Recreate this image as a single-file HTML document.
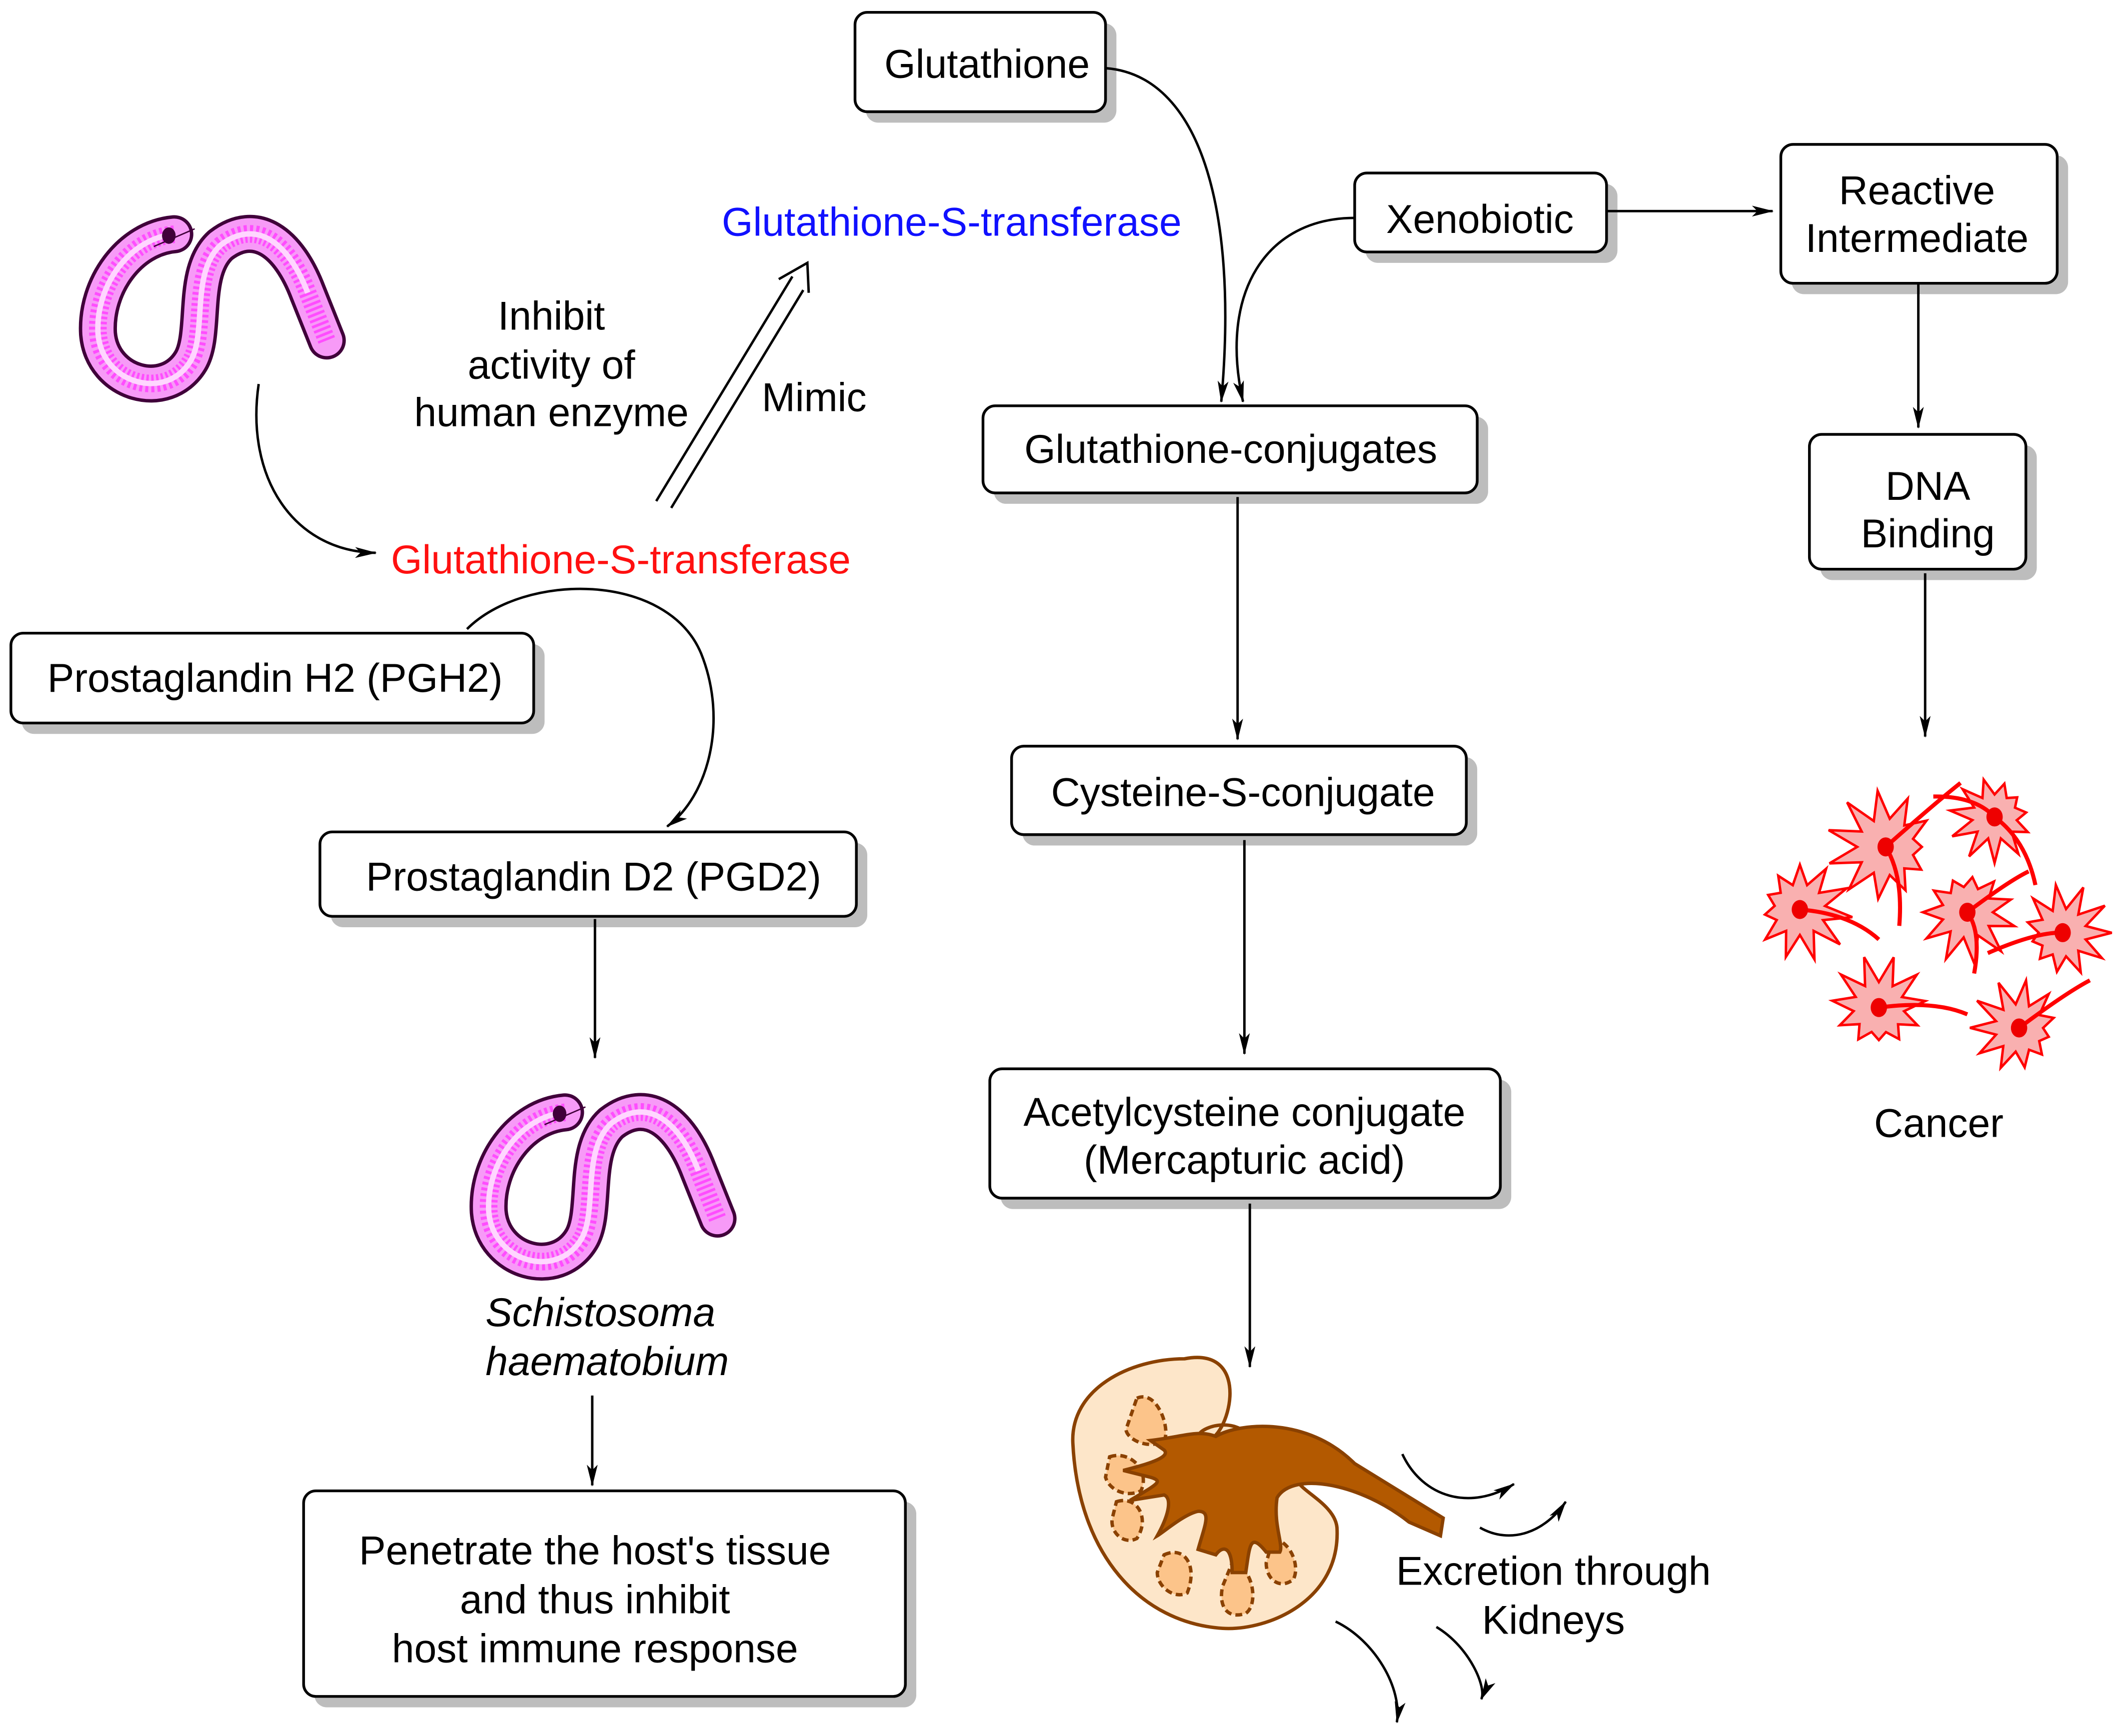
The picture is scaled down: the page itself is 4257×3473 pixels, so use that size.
<!DOCTYPE html>
<html><head><meta charset="utf-8"><style>
html,body{margin:0;padding:0;background:#fff}
svg{display:block}
text{font-family:"Liberation Sans",Arial,sans-serif;font-size:29.5px;fill:#000}
</style></head><body>
<svg id="s" width="4257" height="3473" viewBox="0 0 1563 1275" xmlns="http://www.w3.org/2000/svg">
<defs>
<marker id="a" viewBox="0 0 20 10" refX="19" refY="5" markerWidth="16" markerHeight="8" markerUnits="userSpaceOnUse" orient="auto">
<path d="M0,0 L20,5 L0,10 L5,5 Z" fill="#000"/></marker>
</defs>
<g id="boxes" stroke="#000" stroke-width="2">
<g fill="#bdbdbd" stroke="none">
<rect x="636" y="17" width="184" height="73" rx="9"/>
<rect x="1003" y="135" width="185" height="58" rx="9"/>
<rect x="1316" y="114" width="203" height="102" rx="9"/>
<rect x="730" y="306" width="363" height="64" rx="9"/>
<rect x="1337" y="327" width="159" height="99" rx="9"/>
<rect x="16" y="473" width="384" height="66" rx="9"/>
<rect x="751" y="556" width="334" height="65" rx="9"/>
<rect x="243" y="619" width="394" height="62" rx="9"/>
<rect x="735" y="793" width="375" height="95" rx="9"/>
<rect x="231" y="1103" width="442" height="151" rx="9"/>
</g>
<g fill="#fff">
<rect x="628" y="9" width="184" height="73" rx="9"/>
<rect x="995" y="127" width="185" height="58" rx="9"/>
<rect x="1308" y="106" width="203" height="102" rx="9"/>
<rect x="722" y="298" width="363" height="64" rx="9"/>
<rect x="1329" y="319" width="159" height="99" rx="9"/>
<rect x="8" y="465" width="384" height="66" rx="9"/>
<rect x="743" y="548" width="334" height="65" rx="9"/>
<rect x="235" y="611" width="394" height="62" rx="9"/>
<rect x="727" y="785" width="375" height="95" rx="9"/>
<rect x="223" y="1095" width="442" height="151" rx="9"/>
</g>
</g>
<g text-anchor="middle">
<text x="725" y="57">Glutathione</text>
<text x="1087" y="171">Xenobiotic</text>
<text x="1408" y="150">Reactive</text>
<text x="1408" y="185">Intermediate</text>
<text x="904" y="340">Glutathione-conjugates</text>
<text x="1416" y="367">DNA</text>
<text x="1416" y="402">Binding</text>
<text x="202" y="508">Prostaglandin H2 (PGH2)</text>
<text x="913" y="592">Cysteine-S-conjugate</text>
<text x="436" y="654">Prostaglandin D2 (PGD2)</text>
<text x="914" y="827">Acetylcysteine conjugate</text>
<text x="914" y="862">(Mercapturic acid)</text>
<text x="437" y="1149">Penetrate the host's tissue</text>
<text x="437" y="1185">and thus inhibit</text>
<text x="437" y="1221">host immune response</text>
<text x="699" y="173" style="fill:#1010ff">Glutathione-S-transferase</text>
<text x="456" y="421" style="fill:#ff1010">Glutathione-S-transferase</text>
<text x="405" y="242">Inhibit</text>
<text x="405" y="278">activity of</text>
<text x="405" y="313">human enzyme</text>
<text x="598" y="302">Mimic</text>
<text x="441" y="974" font-style="italic">Schistosoma</text>
<text x="446" y="1010" font-style="italic">haematobium</text>
<text x="1424" y="835">Cancer</text>
<text x="1141" y="1164">Excretion through</text>
<text x="1141" y="1200">Kidneys</text>
</g>
<g fill="none" stroke="#000" stroke-width="1.8" marker-end="url(#a)">
<path d="M812,50 C880,55 910,150 897,295"/>
<path d="M995,160 C930,160 895,215 913,295"/>
<path d="M1180,155 L1302,155"/>
<path d="M1409,208 L1409,314"/>
<path d="M1414,421 L1414,541"/>
<path d="M909,365 L909,543"/>
<path d="M914,617 L914,774"/>
<path d="M918,884 L918,1004"/>
<path d="M437,675 L437,777"/>
<path d="M435,1025 L435,1091"/>
<path d="M190,282 C180,350 215,405 276,406"/>
<path d="M343,462 C385,420 490,420 515,480 C535,530 520,585 490,607"/>
<path d="M1030,1068 C1045,1100 1080,1110 1112,1090"/>
<path d="M1087,1122 C1110,1135 1135,1125 1150,1103"/>
<path d="M981,1191 C1010,1205 1030,1240 1026,1265"/>
<path d="M1055,1195 C1080,1210 1092,1240 1088,1248"/>
</g>
<g fill="none" stroke="#000" stroke-width="1.8">
<path d="M482,368 L582,203"/>
<path d="M493,373 L590,213"/>
<path d="M572,205 L593,193 L594,215"/>
</g>
<g id="worm">
<path d="M128,172 C95,175 70,210 72,245 C75,282 122,295 140,265 C152,245 140,200 162,180 C188,160 212,178 226,215 L240,250" fill="none" stroke="#40003a" stroke-width="28" stroke-linecap="round" stroke-linejoin="round"/>
<path d="M128,172 C95,175 70,210 72,245 C75,282 122,295 140,265 C152,245 140,200 162,180 C188,160 212,178 226,215 L240,250" fill="none" stroke="#f79af7" stroke-width="23" stroke-linecap="round"/>
<path d="M128,172 C95,175 70,210 72,245 C75,282 122,295 140,265 C152,245 140,200 162,180 C188,160 212,178 226,215 L240,250" fill="none" stroke="#ff4dff" stroke-width="13" stroke-dasharray="2 2"/>
<path d="M128,172 C95,175 70,210 72,245 C75,282 122,295 140,265 C152,245 140,200 162,180 C188,160 212,178 226,215" fill="none" stroke="#ffd6ff" stroke-width="4"/>
<ellipse cx="124" cy="173" rx="5" ry="6" fill="#40003a"/>
<path d="M113,181 L143,168" stroke="#40003a" stroke-width="1"/>
</g>
<use href="#worm" transform="translate(287,645)"/>
<g stroke="#8a4100" stroke-width="2.5">
<path d="M870,998 C922,988 902,1060 885,1058 C870,1055 895,1040 912,1050 L907,1070 C880,1090 958,1070 958,1080 C938,1090 980,1100 982,1122 C985,1175 932,1198 898,1196 C838,1192 792,1142 788,1060 C786,1020 830,998 870,998 Z" fill="#fde6c9"/>
<g fill="#fcc48a" stroke-dasharray="5 3">
<path d="M835,1027 C850,1020 860,1050 855,1058 C845,1065 828,1058 827,1050 Z"/>
<path d="M815,1070 C830,1065 845,1080 838,1095 C828,1100 815,1095 812,1085 Z"/>
<path d="M820,1103 C835,1098 845,1115 835,1130 C825,1135 815,1125 817,1115 Z"/>
<path d="M855,1142 C870,1135 880,1150 872,1170 C862,1175 850,1165 850,1155 Z"/>
<path d="M905,1148 C920,1150 925,1178 915,1185 C900,1190 895,1178 898,1165 Z"/>
<path d="M935,1130 C948,1132 955,1150 950,1160 C940,1168 930,1160 930,1148 Z"/>
</g>
<path d="M893,1055 C910,1045 960,1040 995,1075 L1060,1115 L1058,1128 L1035,1118 C1000,1090 950,1080 938,1100 C935,1120 943,1135 940,1140 L930,1140 C918,1125 918,1135 915,1155 L905,1155 C905,1135 898,1135 893,1142 L880,1138 C885,1120 890,1110 880,1110 C870,1112 855,1125 850,1128 C860,1110 860,1100 855,1098 L830,1102 C850,1090 855,1088 845,1085 L825,1080 C845,1075 860,1070 855,1065 L845,1058 C870,1055 880,1050 893,1055 Z" fill="#b35900"/>
</g>
<g id="cells"></g>
</svg>
<script>
var g=document.getElementById('cells'),ns='http://www.w3.org/2000/svg';
var C=[[1385,622,38,[[1440,575],[1395,680]]],[1465,600,30,[[1495,650],[1420,585]]],[1445,670,34,[[1490,640],[1450,715]]],[1322,668,34,[[1380,690]]],[1515,685,32,[[1460,700]]],[1380,740,34,[[1445,745]]],[1483,755,32,[[1535,720]]]];
C.forEach(function(c,k){var pts=[],n=22;for(var i=0;i<n;i++){var a=i/n*Math.PI*2+k,r=(i%2?c[2]*0.55:c[2]*(0.7+0.45*Math.abs(Math.sin(i*1.7+k))));pts.push((c[0]+r*Math.cos(a)).toFixed(1)+','+(c[1]+r*Math.sin(a)).toFixed(1));}
var p=document.createElementNS(ns,'polygon');p.setAttribute('points',pts.join(' '));p.setAttribute('fill','#f9b0b0');p.setAttribute('stroke','#f00');p.setAttribute('stroke-width','1.8');g.appendChild(p);
c[3].forEach(function(t){var l=document.createElementNS(ns,'path');l.setAttribute('d','M'+c[0]+','+c[1]+' Q'+((c[0]+t[0])/2+8)+','+((c[1]+t[1])/2-8)+' '+t[0]+','+t[1]);l.setAttribute('stroke','#f00');l.setAttribute('stroke-width','3');l.setAttribute('fill','none');g.appendChild(l);});
var e=document.createElementNS(ns,'ellipse');e.setAttribute('cx',c[0]);e.setAttribute('cy',c[1]);e.setAttribute('rx',6);e.setAttribute('ry',7);e.setAttribute('fill','#e00');g.appendChild(e);});
</script>
</body></html>
